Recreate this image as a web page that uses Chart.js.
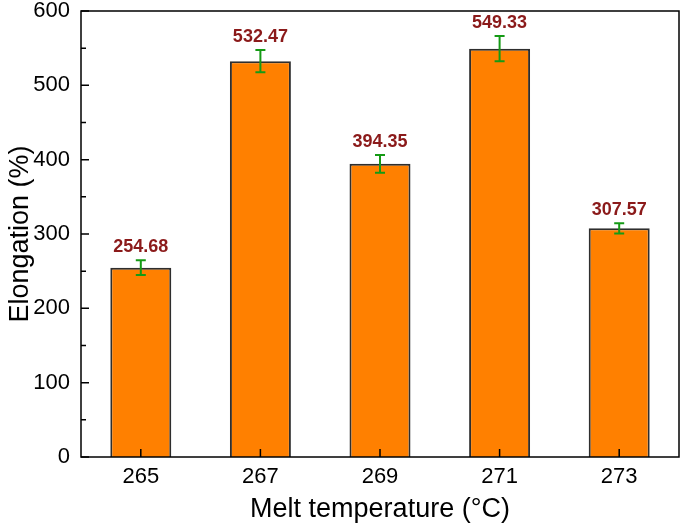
<!DOCTYPE html>
<html lang="en">
<head>
    <meta charset="UTF-8">
    <title>Elongation vs melt temperature</title>
    <script src="https://cdn.jsdelivr.net/npm/chart.js"></script>
    <style>
        body { margin: 0; background: #fff; }
        #wrap { width: 683px; height: 526px; }
    </style>
</head>
<body>
    <div id="wrap"><canvas id="myChart" width="683" height="526"></canvas></div>

    <script>
        // data
        var temps = ['265', '267', '269', '271', '273'];
        var elongation = [254.68, 532.47, 394.35, 549.33, 307.57];
        var errors = [10, 15, 12, 17, 7];
        var yTicks = [0, 100, 200, 300, 400, 500, 600];

        var FONT = '"Liberation Sans", Arial, sans-serif';

        // error bars, value labels, inward ticks and the box frame
        var extras = {
            id: 'extras',
            afterDatasetsDraw: function (chart) {
                var ctx = chart.ctx;
                var xs = chart.scales.x, ys = chart.scales.y;
                var area = chart.chartArea;
                ctx.save();

                // error bars
                ctx.strokeStyle = '#159a15';
                ctx.lineWidth = 2;
                for (var i = 0; i < elongation.length; i++) {
                    var x = xs.getPixelForValue(i);
                    var yt = ys.getPixelForValue(elongation[i] + errors[i]);
                    var yb = ys.getPixelForValue(elongation[i] - errors[i]);
                    ctx.beginPath();
                    ctx.moveTo(x, yt); ctx.lineTo(x, yb);
                    ctx.moveTo(x - 5, yt); ctx.lineTo(x + 5, yt);
                    ctx.moveTo(x - 5, yb); ctx.lineTo(x + 5, yb);
                    ctx.stroke();
                }

                // value labels
                ctx.fillStyle = '#8b1a1a';
                ctx.font = 'bold 18px ' + FONT;
                ctx.textAlign = 'center';
                ctx.textBaseline = 'bottom';
                for (var j = 0; j < elongation.length; j++) {
                    var lx = xs.getPixelForValue(j);
                    var ly = ys.getPixelForValue(elongation[j] + errors[j]) - 4;
                    ctx.fillText(elongation[j].toFixed(2), lx, ly);
                }

                // frame
                ctx.strokeStyle = '#000';
                ctx.lineWidth = 1.5;
                ctx.strokeRect(area.left, area.top, area.right - area.left, area.bottom - area.top);

                // inward ticks
                ctx.lineWidth = 1.5;
                ctx.beginPath();
                for (var v = 0; v <= 600; v += 50) {
                    var py = ys.getPixelForValue(v);
                    var len = (v % 100 === 0) ? 8 : 5;
                    ctx.moveTo(area.left, py); ctx.lineTo(area.left + len, py);
                }
                for (var k = 0; k < temps.length; k++) {
                    var px = xs.getPixelForValue(k);
                    ctx.moveTo(px, area.bottom); ctx.lineTo(px, area.bottom - 8);
                }
                ctx.stroke();
                ctx.restore();
            }
        };

        var ctx = document.getElementById('myChart').getContext('2d');
        var myChart = new Chart(ctx, {
            type: 'bar',
            data: {
                labels: temps,
                datasets: [{
                    data: elongation,
                    backgroundColor: '#ff8000',
                    borderColor: '#2e2e2e',
                    borderWidth: 2,
                    barPercentage: 0.51,
                    categoryPercentage: 1
                }]
            },
            options: {
                responsive: false,
                animation: false,
                layout: { padding: { top: 11, right: 4, left: 0, bottom: 0 } },
                plugins: {
                    legend: { display: false },
                    tooltip: { enabled: false }
                },
                scales: {
                    x: {
                        grid: { display: false, drawTicks: false },
                        border: { display: false },
                        ticks: { color: '#000', font: { family: FONT, size: 22 }, padding: 7 },
                        title: {
                            display: true,
                            text: 'Melt temperature (\u00b0C)',
                            color: '#000',
                            font: { family: FONT, size: 27 },
                            padding: { top: 0, bottom: 0 }
                        },
                        afterFit: function (scale) {
                            scale.height = 69;
                            scale.paddingLeft = 0;
                            scale.paddingRight = 0;
                        }
                    },
                    y: {
                        min: 0,
                        max: 600,
                        afterBuildTicks: function (scale) {
                            scale.ticks = yTicks.map(function (v) { return { value: v }; });
                        },
                        grid: { display: false, drawTicks: false },
                        border: { display: false },
                        ticks: { color: '#000', font: { family: FONT, size: 22 }, padding: 11 },
                        title: {
                            display: true,
                            text: 'Elongation (%)',
                            color: '#000',
                            font: { family: FONT, size: 27 },
                            padding: { top: 4, bottom: 2 }
                        },
                        afterFit: function (scale) {
                            scale.width = 81;
                            scale.paddingTop = 0;
                            scale.paddingBottom = 0;
                        }
                    }
                }
            },
            plugins: [extras]
        });
    </script>
</body>
</html>
